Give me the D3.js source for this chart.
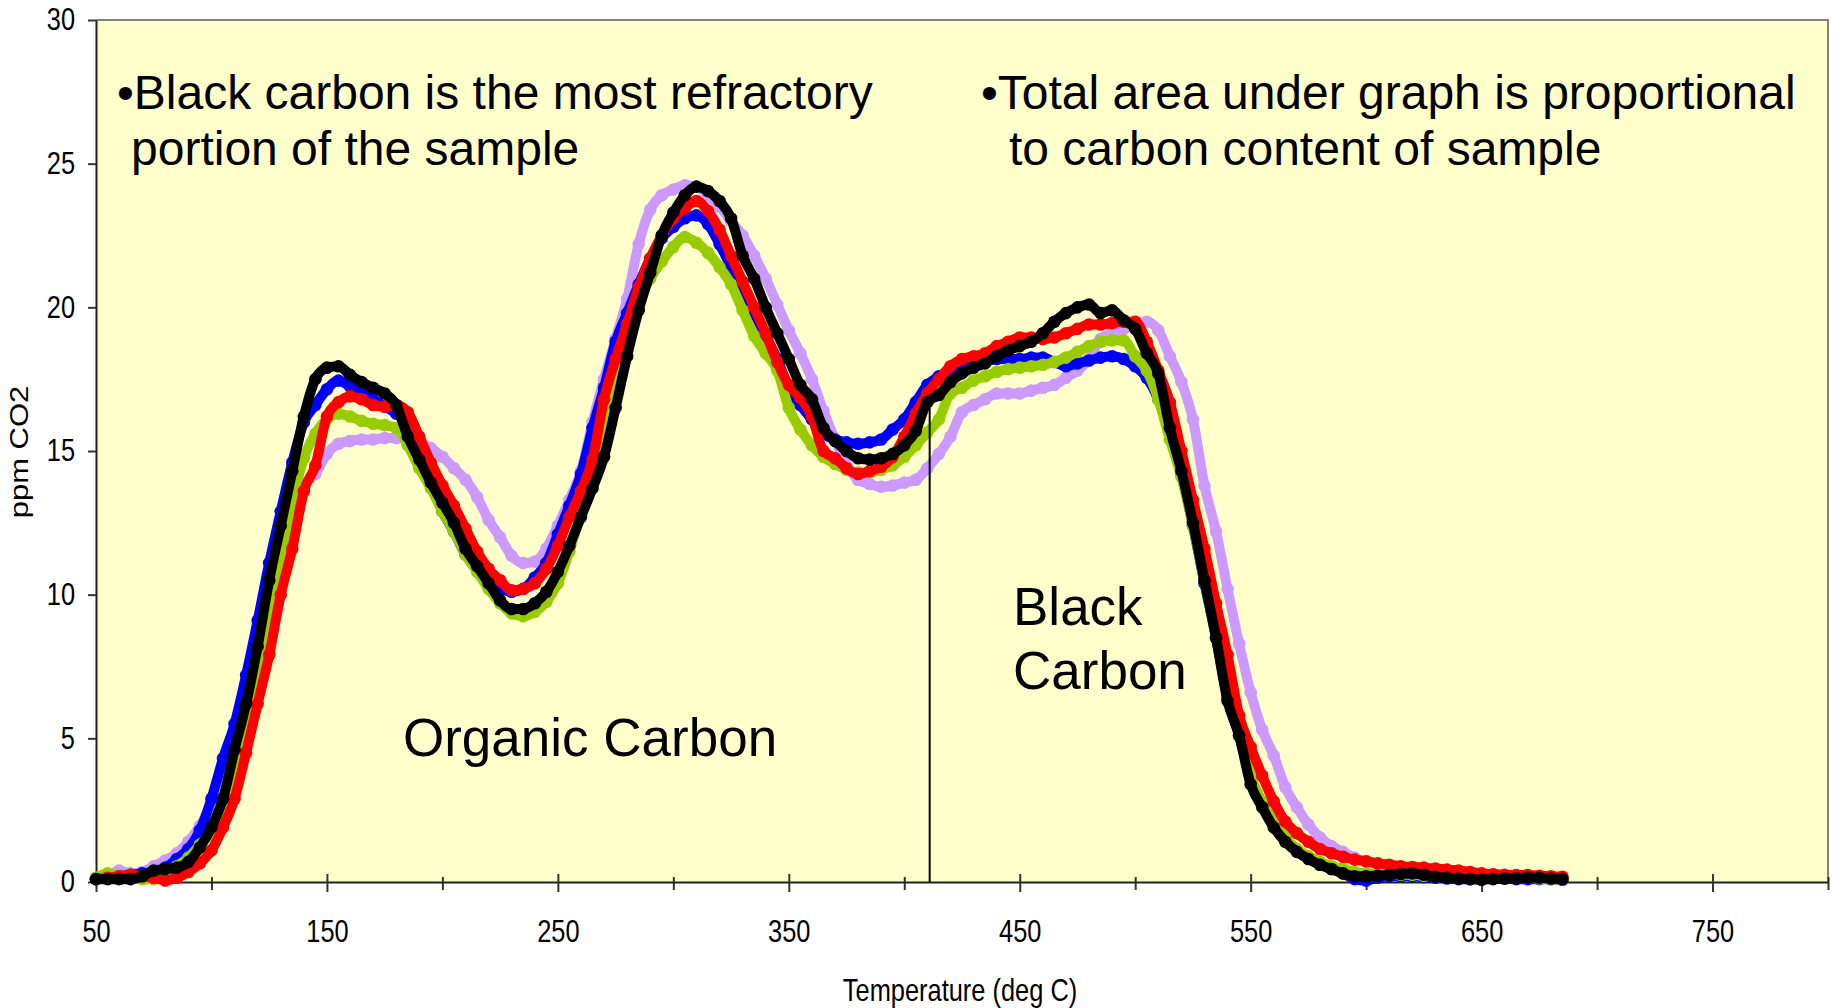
<!DOCTYPE html>
<html>
<head>
<meta charset="utf-8">
<script src="https://cdn.jsdelivr.net/npm/d3@7"></script>
<style>
body{margin:0;background:#fff;}
svg{display:block;font-family:"Liberation Sans",Arial,sans-serif;}
</style>
</head>
<body>
<svg id="chart" width="1835" height="1008"></svg>
<script>
// temperature of each reading (deg C)
var temps=[50,55,60,65,70,75,80,85,90,95,
  100,105,110,115,120,125,130,135,140,145,
  150,155,160,165,170,175,180,185,190,195,
  200,205,210,215,220,225,230,235,240,245,
  250,255,260,265,270,275,280,285,290,295,
  300,305,310,315,320,325,330,335,340,345,
  350,355,360,365,370,375,380,385,390,395,
  400,405,410,415,420,425,430,435,440,445,
  450,455,460,465,470,475,480,485,490,495,
  500,505,510,515,520,525,530,535,540,545,
  550,555,560,565,570,575,580,585,590,595,
  600,605,610,615,620,625,630,635,640,645,
  650,655,660,665,670,675,680,685];

// ppm CO2 for each run
var black=[0.1,0.1,0.1,0.1,0.2,0.4,0.45,0.5,0.7,1.2,
  1.9,2.9,4.6,6.2,8.2,10.5,12.4,14.3,16.2,17.5,
  17.9,17.95,17.65,17.4,17.2,17.0,16.6,15.5,14.7,13.9,
  13.2,12.5,11.6,11.0,10.4,9.8,9.5,9.5,9.7,10.1,
  10.8,11.7,12.7,13.7,14.8,16.5,18.3,19.9,21.2,22.5,
  23.3,23.9,24.2,24.05,23.7,23.1,21.8,21.0,20.0,19.1,
  18.2,17.3,16.8,15.8,15.35,15.0,14.75,14.7,14.75,14.9,
  15.2,15.7,16.7,16.95,17.4,17.7,17.9,18.05,18.3,18.5,
  18.65,18.8,19.1,19.5,19.8,20.0,20.1,19.8,19.9,19.55,
  19.25,18.4,17.7,15.8,14.3,12.5,10.5,8.5,6.3,5.1,
  3.4,2.6,1.9,1.4,1.05,0.8,0.6,0.45,0.3,0.2,
  0.2,0.22,0.25,0.28,0.3,0.25,0.18,0.15,0.12,0.1,
  0.08,0.1,0.12,0.13,0.15,0.15,0.12,0.1];

var red=[0.1,0.15,0.2,0.25,0.2,0.15,0.05,0.15,0.35,0.65,
  1.1,1.9,2.9,4.5,6.2,7.9,10.0,11.6,13.6,14.5,
  16.2,16.7,16.9,16.8,16.6,16.55,16.6,16.35,15.5,14.6,
  13.8,13.1,12.3,11.5,10.9,10.5,10.15,10.2,10.4,10.9,
  11.7,12.7,13.6,14.7,16.8,18.2,19.4,20.7,21.7,22.5,
  23.1,23.45,23.7,23.35,22.7,21.8,20.9,20.0,19.1,18.1,
  17.3,16.85,16.2,15.0,14.75,14.4,14.2,14.3,14.45,14.8,
  15.5,16.3,17.0,17.5,17.95,18.2,18.3,18.4,18.65,18.8,
  18.95,18.95,18.9,18.95,19.1,19.25,19.4,19.4,19.45,19.5,
  19.5,18.8,17.8,16.7,15.0,13.3,11.6,9.7,7.9,5.8,
  4.7,3.7,2.8,2.1,1.7,1.4,1.15,1.0,0.88,0.78,
  0.72,0.65,0.6,0.55,0.52,0.5,0.47,0.43,0.4,0.35,
  0.3,0.27,0.24,0.24,0.24,0.22,0.2,0.18];

var blue=[0.1,0.15,0.2,0.25,0.3,0.35,0.5,0.8,1.15,1.8,
  2.9,4.3,5.5,7.2,9.1,11.1,12.9,14.6,16.0,16.6,
  17.15,17.45,17.25,17.05,16.8,16.55,16.3,15.9,15.0,13.9,
  12.9,12.2,11.4,10.9,10.4,10.2,10.1,10.2,10.6,11.1,
  12.1,13.1,14.2,15.8,17.2,18.8,19.8,20.8,21.7,22.4,
  22.8,23.1,23.2,22.9,22.2,21.4,20.5,19.8,19.0,18.2,
  17.2,16.6,16.1,15.6,15.4,15.3,15.25,15.3,15.4,15.75,
  16.1,16.7,17.3,17.6,17.8,18.05,18.15,18.15,18.2,18.2,
  18.2,18.25,18.25,18.1,17.95,18.05,18.15,18.25,18.3,18.2,
  17.95,17.55,16.8,15.6,14.2,12.4,10.4,8.5,6.4,5.1,
  3.6,2.7,2.0,1.5,1.1,0.85,0.6,0.45,0.3,0.1,
  0.05,0.15,0.2,0.2,0.2,0.18,0.15,0.12,0.1,0.1,
  0.1,0.12,0.12,0.1,0.1,0.1,0.1,0.08];

var green=[0.15,0.3,0.2,0.15,0.1,0.1,0.25,0.55,0.85,1.3,
  1.75,2.5,3.6,5.4,7.0,8.9,11.0,13.2,14.75,15.6,
  16.1,16.3,16.2,16.05,15.95,15.9,15.8,15.2,14.4,13.7,
  12.9,12.2,11.4,10.8,10.2,9.7,9.35,9.25,9.4,9.75,
  10.4,11.5,12.9,14.3,16.3,17.9,19.4,20.3,21.0,21.6,
  22.1,22.45,22.25,21.9,21.4,20.8,19.9,19.0,18.4,17.8,
  16.5,15.75,15.2,14.8,14.55,14.35,14.25,14.25,14.35,14.5,
  14.8,15.2,15.65,16.1,17.0,17.2,17.45,17.6,17.75,17.85,
  17.9,17.95,18.0,18.1,18.25,18.45,18.65,18.8,18.85,18.85,
  18.3,17.8,16.8,15.4,14.1,12.4,10.5,8.5,6.5,5.2,
  3.7,2.8,2.1,1.55,1.15,0.9,0.7,0.55,0.45,0.35,
  0.3,0.3,0.28,0.25,0.25,0.22,0.2,0.2,0.18,0.18,
  0.15,0.15,0.2,0.15,0.15,0.12,0.1,0.1];

var lavender=[0.15,0.2,0.4,0.3,0.35,0.55,0.75,1.0,1.4,1.95,
  2.7,3.6,4.6,5.9,7.6,9.8,11.3,12.6,13.8,14.2,
  14.9,15.25,15.35,15.4,15.4,15.45,15.45,15.4,15.3,15.1,
  14.8,14.4,14.0,13.4,12.6,12.0,11.35,11.1,11.15,11.6,
  12.4,13.3,14.3,16.0,17.5,18.9,20.3,22.2,23.4,23.9,
  24.1,24.25,24.2,23.9,23.5,23.0,22.5,21.8,21.0,20.1,
  19.2,18.4,17.5,16.4,15.4,14.5,14.0,13.85,13.75,13.8,
  13.9,14.0,14.4,14.9,15.5,16.35,16.6,16.8,17.0,17.0,
  17.0,17.1,17.2,17.3,17.55,17.8,18.2,18.9,19.1,19.25,
  19.4,19.5,19.2,18.3,17.4,16.1,13.8,12.2,10.2,8.3,
  6.6,5.3,4.4,3.3,2.6,2.0,1.55,1.25,1.05,0.85,
  0.72,0.62,0.55,0.5,0.48,0.45,0.43,0.42,0.38,0.33,
  0.3,0.28,0.26,0.24,0.22,0.2,0.18,0.15];

var yTicks=[0,5,10,15,20,25,30];
var xLabels=[50,150,250,350,450,550,650,750];
var xMinor=[100,200,300,400,500,600,700,800];
var dividerTemp=411, dividerTop=16.7;

var W=1835,H=1008;
var margin={top:20,right:7,bottom:126,left:96};
var squeeze=0.82; // axis text is narrow

var svg=d3.select('#chart');
var x=d3.scaleLinear().domain([50,800]).range([margin.left,W-margin.right]);
var y=d3.scaleLinear().domain([0,30]).range([H-margin.bottom,margin.top]);

svg.append('rect').attr('width',W).attr('height',H).attr('fill','#fff');
svg.append('rect')
  .attr('x',x(50)).attr('y',y(30))
  .attr('width',x(800)-x(50)).attr('height',y(0)-y(30))
  .attr('fill','#FFFFCC');
svg.append('path')
  .attr('d','M'+x(50)+','+y(30)+'H'+x(800)+'V'+y(0))
  .attr('fill','none').attr('stroke','#808080').attr('stroke-width',2);

// axes
var gy=svg.append('g').attr('transform','translate('+x(50)+',0)')
  .call(d3.axisLeft(y).tickValues(yTicks).tickSize(8).tickSizeOuter(0));
gy.attr('font-size',31).attr('font-family',null);
gy.select('.domain').attr('stroke','#222').attr('stroke-width',2);
gy.selectAll('.tick line').attr('stroke','#333').attr('stroke-width',2);
gy.selectAll('.tick text').attr('x',-21/squeeze).attr('transform','scale('+squeeze+',1)').attr('fill','#000');

var gxm=svg.append('g').attr('transform','translate(0,'+y(0)+')')
  .call(d3.axisBottom(x).tickValues(xMinor).tickSize(8).tickSizeOuter(0).tickFormat(''));
gxm.select('.domain').remove();
gxm.selectAll('.tick line').attr('y1',-5).attr('stroke','#333').attr('stroke-width',2);

var gx=svg.append('g').attr('transform','translate(0,'+y(0)+')')
  .call(d3.axisBottom(x).tickValues(xLabels).tickSize(10).tickSizeOuter(0).tickPadding(28));
gx.attr('font-size',31).attr('font-family',null);
gx.select('.domain').attr('stroke','#222').attr('stroke-width',2);
gx.selectAll('.tick line').attr('y1',-8).attr('stroke','#333').attr('stroke-width',2);
gx.selectAll('.tick text').attr('transform','scale('+squeeze+',1)').attr('fill','#000');

svg.append('text')
  .attr('transform','translate(28,452) scale('+squeeze+',1) rotate(-90)')
  .attr('text-anchor','middle').attr('font-size',31).text('ppm CO2');
svg.append('text')
  .attr('transform','translate(960,1001) scale('+squeeze+',1)')
  .attr('text-anchor','middle').attr('font-size',31).text('Temperature (deg C)');

// runs, lightest first so black ends up on top
var series=[
  {values:lavender,color:'#CC99FF'},
  {values:blue,color:'#0000FF'},
  {values:green,color:'#99CC00'},
  {values:red,color:'#FF0000'},
  {values:black,color:'#000000'}
];
var line=d3.line().x(d=>x(d.t)).y(d=>y(d.v)).curve(d3.curveMonotoneX);
series.forEach(function(s){
  var pts=temps.map((t,i)=>({t:t,v:s.values[i]}));
  var g=svg.append('g');
  g.append('path').datum(pts).attr('d',line)
    .attr('fill','none').attr('stroke',s.color).attr('stroke-width',10)
    .attr('stroke-linejoin','round').attr('stroke-linecap','round');
  g.selectAll('circle').data(pts).join('circle')
    .attr('cx',d=>x(d.t)).attr('cy',d=>y(d.v)).attr('r',6.3).attr('fill',s.color);
});

svg.append('line')
  .attr('x1',x(dividerTemp)).attr('x2',x(dividerTemp))
  .attr('y1',y(dividerTop)).attr('y2',y(0))
  .attr('stroke','#000').attr('stroke-width',2);

// notes
var notes=[
  {t:'\u2022Black carbon is the most refractory',x:117,y:109,s:48},
  {t:'portion of the sample',x:131,y:165,s:48},
  {t:'\u2022Total area under graph is proportional',x:981,y:109,s:48},
  {t:'to carbon content of sample',x:1009,y:165,s:48},
  {t:'Organic Carbon',x:403,y:756,s:53},
  {t:'Black',x:1013,y:625,s:53},
  {t:'Carbon',x:1013,y:689,s:53}
];
svg.selectAll('text.note').data(notes).join('text').attr('class','note')
  .attr('x',d=>d.x).attr('y',d=>d.y).attr('font-size',d=>d.s)
  .attr('fill','#000').text(d=>d.t);
</script>
</body>
</html>
